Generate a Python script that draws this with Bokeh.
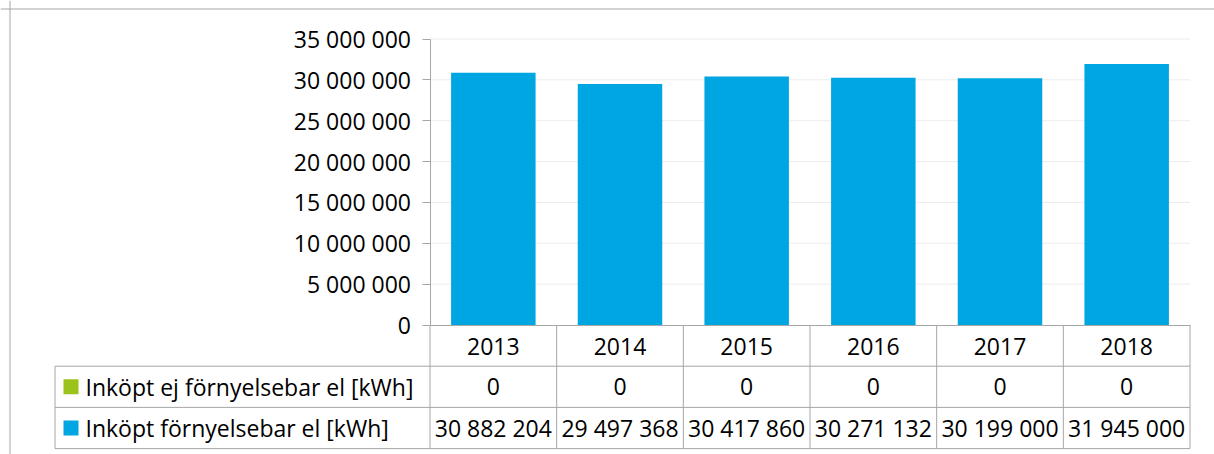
from bokeh.plotting import figure
from bokeh.models import Range1d, LinearAxis, FixedTicker, Span, ColumnDataSource
from bokeh.core.properties import value
from bokeh.embed import file_html
from bokeh.resources import INLINE

# ---------------- data ----------------
years = ["2013", "2014", "2015", "2016", "2017", "2018"]
non_renewable = [0, 0, 0, 0, 0, 0]
renewable = [30882204, 29497368, 30417860, 30271132, 30199000, 31945000]
series_names = ["Inköpt ej förnyelsebar el [kWh]", "Inköpt förnyelsebar el [kWh]"]
y_ticks = [0, 5000000, 10000000, 15000000, 20000000, 25000000, 30000000, 35000000]
y_tick_labels = ["0", "5 000 000", "10 000 000", "15 000 000", "20 000 000",
                 "25 000 000", "30 000 000", "35 000 000"]

# ---------------- style / layout ----------------
BLUE = "#00A6E2"
GREEN = "#9BC31C"
LINE = "#A6A6A6"
GRID = "#ECECEC"
FONT = "Open Sans"
FS = "23px"

PAGE = 0
FIG_W, FIG_H = 1214, 454
PLOT_L, PLOT_R = 429.5, 1189.5
YTOP, Y0 = 38.5, 324.5
ROW_H = 41.2
LEG_L = 54.5
SQ_X, TXT_X = 70.5, 85

n = len(years)
unit_x = (PLOT_R - PLOT_L) / n
x_start = -0.5 - (PLOT_L - PAGE) / unit_x
x_end = x_start + FIG_W / unit_x


def px_to_x(px):
    return x_start + (px - PAGE) / unit_x


ymax = y_ticks[-1]
vpp = ymax / (Y0 - YTOP)
y_start = -(PAGE + FIG_H - Y0) * vpp
y_end = ymax + (YTOP - PAGE) * vpp


def py_to_y(py):
    return y_end - (py - PAGE) * vpp


t_start = -(PAGE + FIG_H - Y0) / ROW_H
t_end = (Y0 - PAGE) / ROW_H

p = figure(width=FIG_W, height=FIG_H,
           x_range=Range1d(x_start, x_end), y_range=Range1d(y_start, y_end),
           x_axis_type=None, y_axis_type=None,
           toolbar_location=None, output_backend="svg",
           min_border=0, outline_line_color=None,
           background_fill_color="white", border_fill_color="white")
p.min_border_left = p.min_border_right = p.min_border_top = p.min_border_bottom = 0
p.extra_y_ranges = {"table": Range1d(t_start, t_end)}

# outer chart border (left + top)
p.add_layout(Span(location=px_to_x(9.5), dimension="height", line_color=LINE, line_width=1))
p.add_layout(Span(location=py_to_y(8.5), dimension="width", line_color=LINE, line_width=1))

# gridlines
gt = y_ticks[1:]
p.segment(x0=[-0.5] * len(gt), y0=gt, x1=[n - 0.5] * len(gt), y1=gt,
          line_color=GRID, line_width=1)

# bars
xs = list(range(n))
src = ColumnDataSource(dict(x=xs, ne=non_renewable, re=renewable))
p.vbar_stack(["ne", "re"], x="x", width=0.667, source=src,
             fill_color=[GREEN, BLUE], line_color=None)

# y axis
yaxis = LinearAxis(fixed_location=-0.5, bounds=(0, ymax),
                   ticker=FixedTicker(ticks=y_ticks, minor_ticks=[]),
                   major_label_overrides={t: l for t, l in zip(y_ticks, y_tick_labels)},
                   major_tick_out=8, major_tick_in=0, minor_tick_out=0, minor_tick_in=0,
                   axis_line_color=LINE, major_tick_line_color=LINE,
                   major_label_standoff=11,
                   major_label_text_font=FONT, major_label_text_font_size=FS,
                   major_label_text_color="black")
p.add_layout(yaxis, "left")

# x axis (category row of data table)
xaxis = LinearAxis(fixed_location=0, bounds=(-0.5, n - 0.5),
                   ticker=FixedTicker(ticks=xs, minor_ticks=[]),
                   major_label_overrides={i: y for i, y in enumerate(years)},
                   major_tick_out=0, major_tick_in=0, minor_tick_out=0, minor_tick_in=0,
                   axis_line_color=LINE, major_label_standoff=13,
                   major_label_text_font=FONT, major_label_text_font_size=FS,
                   major_label_text_color="black")
p.add_layout(xaxis, "below")

# data table lines
nrows = len(series_names) + 1
leg_x = px_to_x(LEG_L)
hy = [-(k + 1) for k in range(nrows)]
p.segment(x0=[leg_x] * len(hy), y0=hy, x1=[n - 0.5] * len(hy), y1=hy,
          line_color=LINE, line_width=1, y_range_name="table")
vx = [i - 0.5 for i in range(n + 1)]
p.segment(x0=vx, y0=[0] * len(vx), x1=vx, y1=[-nrows] * len(vx),
          line_color=LINE, line_width=1, y_range_name="table")
p.segment(x0=[leg_x], y0=[-1], x1=[leg_x], y1=[-nrows],
          line_color=LINE, line_width=1, y_range_name="table")

# legend keys + names
row_y = [-1.5 - k for k in range(len(series_names))]
p.scatter(x=[px_to_x(SQ_X)] * len(row_y), y=row_y, marker="square", size=15,
          fill_color=[GREEN, BLUE], line_color=None, y_range_name="table")
p.text(x=[px_to_x(TXT_X)] * len(row_y), y=row_y, text=series_names,
       text_font=value(FONT), text_font_size=FS, text_color="black",
       text_align="left", text_baseline="middle", y_range_name="table")

# table values
for k, vals in enumerate([non_renewable, renewable]):
    labels = [f"{v:,}".replace(",", " ") for v in vals]
    p.text(x=xs, y=[row_y[k]] * n, text=labels,
           text_font=value(FONT), text_font_size=FS, text_color="black",
           text_align="center", text_baseline="middle", y_range_name="table")

open("out.html", "w").write(file_html(p, INLINE))
